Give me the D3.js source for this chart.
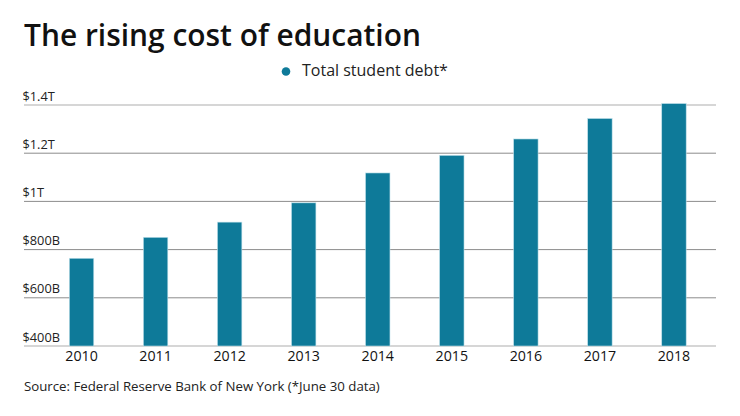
<!DOCTYPE html>
<html>
<head>
<meta charset="utf-8">
<script src="https://cdn.jsdelivr.net/npm/d3@7"></script>
<style>
  body { margin: 0; background: #fff; }
  svg { display: block; font-family: "Open Sans", Lato, sans-serif; }
</style>
</head>
<body>
<svg id="chart" width="740" height="416"></svg>
<script>
// Data (billions of dollars)
const years = ["2010", "2011", "2012", "2013", "2014", "2015", "2016", "2017", "2018"];
const debt = [764, 851, 914, 994, 1118, 1191, 1259, 1344, 1406];
const yTicks = [400, 600, 800, 1000, 1200, 1400];
const yTickLabels = ["$400B", "$600B", "$800B", "$1T", "$1.2T", "$1.4T"];

const svg = d3.select("#chart");
const barColor = "#0e7a99";

const y = d3.scaleLinear().domain([400, 1400]).range([346, 105]);
const x = d3.scaleBand().domain(years).range([32.3, 723.2]).paddingInner(0.67).paddingOuter(0.5);

// shrink/grow font so the text takes the width it has in the picture
function fitWidth(sel, target) {
  const fs = parseFloat(sel.style("font-size"));
  const w = sel.node().getComputedTextLength();
  sel.style("font-size", (fs * target / w).toFixed(2) + "px");
}

// Title
const title = svg.append("text")
  .attr("x", 24)
  .attr("y", 46)
  .style("font-size", "30px")
  .style("font-weight", "600")
  .attr("fill", "#111")
  .text("The rising cost of education");
fitWidth(title, 397);

// Legend
svg.append("circle").attr("cx", 286).attr("cy", 71.5).attr("r", 4.3).attr("fill", barColor);
const legend = svg.append("text")
  .attr("x", 302)
  .attr("y", 76)
  .style("font-size", "14px")
  .attr("fill", "#222")
  .text("Total student debt*");
fitWidth(legend, 146);

// Gridlines + labels
const grid = svg.append("g");
grid.selectAll("line")
  .data(yTicks)
  .join("line")
  .attr("x1", 24)
  .attr("x2", 716)
  .attr("y1", d => y(d))
  .attr("y2", d => y(d))
  .attr("stroke", d => (d === 400 || d === 1400) ? "#c8c8c8" : "#8c8c8c")
  .attr("stroke-width", d => (d === 400 || d === 1400) ? 1.5 : 1);

grid.selectAll("text")
  .data(yTicks)
  .join("text")
  .attr("x", 22.5)
  .attr("y", d => y(d) - 4.5)
  .style("font-size", "11px")
  .attr("fill", "#222")
  .text((d, i) => yTickLabels[i])
  .each(function(d) { if (d === 400) fitWidth(d3.select(this), 37.5); });
const yfs = grid.select("text").style("font-size");
grid.selectAll("text").style("font-size", yfs);

// Bars
svg.append("g")
  .selectAll("rect")
  .data(debt)
  .join("rect")
  .attr("x", (d, i) => x(years[i]))
  .attr("y", d => y(d))
  .attr("width", x.bandwidth())
  .attr("height", d => y(400) - y(d))
  .attr("fill", barColor)
  .attr("stroke", "#bfe0ea")
  .attr("stroke-width", 0.6);

// X axis labels
const xl = svg.append("g")
  .selectAll("text")
  .data(years)
  .join("text")
  .attr("x", d => x(d) + x.bandwidth() / 2)
  .attr("y", 361)
  .attr("text-anchor", "middle")
  .style("font-size", "14px")
  .attr("fill", "#111")
  .text(d => d);
fitWidth(d3.select(xl.node()), 32.5);
xl.style("font-size", d3.select(xl.node()).style("font-size"));

// Source
const source = svg.append("text")
  .attr("x", 24)
  .attr("y", 391)
  .style("font-size", "12.5px")
  .attr("fill", "#222")
  .text("Source: Federal Reserve Bank of New York (*June 30 data)");
fitWidth(source, 356);
</script>
</body>
</html>
